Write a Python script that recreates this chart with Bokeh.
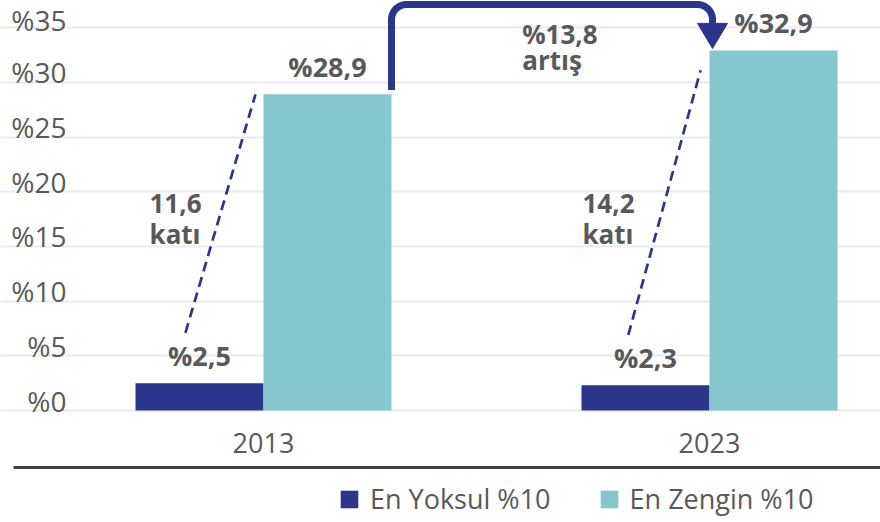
import numpy as np
from bokeh.plotting import figure
from bokeh.models import (ColumnDataSource, FixedTicker, Legend, LegendItem,
                          Range1d)
from bokeh.core.properties import value
from bokeh.embed import file_html
from bokeh.resources import INLINE

# ---------------- data ----------------
categories = ["2013", "2023"]
series_names = ["En Yoksul %10", "En Zengin %10"]
poorest = [2.5, 2.3]
richest = [28.9, 32.9]
ratio_labels = ["11,6\nkatı", "14,2\nkatı"]
increase_label = "%13,8\nartış"
y_ticks = [0, 5, 10, 15, 20, 25, 30, 35]
y_tick_labels = ["%0", "%5", "%10", "%15", "%20", "%25", "%30", "%35"]

# ---------------- style ----------------
NAVY = "#2B3589"
TEAL = "#85C7CC"
GRAY = "#595959"
FONT = "Open Sans"

W, H = 880, 522
PPX = 446.0      # pixels per category step
PPY = 10.94      # pixels per percentage point
X0_PX, Y0_PX = 263, 410   # pixel position of first category / zero line
x_start, x_end = -X0_PX / PPX, (W - X0_PX) / PPX
y_start, y_end = -(H - Y0_PX) / PPY, Y0_PX / PPY
PX_X, PX_Y = 1 / PPX, 1 / PPY
PLOT_LEFT = x_start + 91 * PX_X

BAR_W = 128 * PX_X
TXT_SHIFT = -10          # pixel correction for text baselines
YLBL_LIFT = 10 * PX_Y    # tick labels sit slightly above their gridlines


def pct(v):
    return "%" + f"{v:.1f}".replace(".", ",")


xs = np.arange(len(categories), dtype=float)
src = ColumnDataSource(dict(
    x_poor=xs - BAR_W / 2, x_rich=xs + BAR_W / 2,
    poor=poorest, rich=richest,
    poor_lbl=[pct(v) for v in poorest], rich_lbl=[pct(v) for v in richest],
))

p = figure(width=W, height=H, output_backend="svg", toolbar_location=None,
           x_range=Range1d(x_start, x_end), y_range=Range1d(y_start, y_end),
           min_border_left=0, min_border_right=0, min_border_top=0,
           min_border_bottom=0)
p.outline_line_color = None

r_poor = p.vbar(x="x_poor", top="poor", bottom=0, width=BAR_W, source=src,
                fill_color=NAVY, line_color=None)
r_rich = p.vbar(x="x_rich", top="rich", bottom=0, width=BAR_W, source=src,
                fill_color=TEAL, line_color=None)

# value labels
for xf, yf, tf in (("x_poor", "poor", "poor_lbl"), ("x_rich", "rich", "rich_lbl")):
    p.text(x=xf, y=yf, text=tf, source=src, text_align="center",
           text_baseline="alphabetic", y_offset=-18 + TXT_SHIFT,
           text_font=value(FONT), text_font_style="bold",
           text_font_size="27px", text_color=GRAY)

# dashed ratio lines and ratio labels
dash_x0 = [-0.175, -0.182]
dash_x1 = [-0.018, -0.020]
dash_end_drop = [0.0, 1.8]
ratio_x = [-0.2556, -0.2848]
for i in range(len(categories)):
    p.line([xs[i] + dash_x0[i], xs[i] + dash_x1[i]],
           [poorest[i] + 4.6, richest[i] - dash_end_drop[i]],
           line_color=NAVY, line_width=2.7, line_dash="10 6")
    for k, line in enumerate(ratio_labels[i].split("\n")):
        p.text(x=[xs[i] + ratio_x[i]], y=[18.0], text=[line],
               y_offset=k * 30 + TXT_SHIFT, text_align="left",
               text_baseline="alphabetic",
               text_font=value(FONT), text_font_style="bold",
               text_font_size="26px", text_color=GRAY)

# bent arrow from 2013 richest bar to 2023 richest bar
ax0 = xs[0] + BAR_W
ax1 = xs[1] + 3 * PX_X
ay0 = richest[0] + 0.4
ay_top = y_end - 4 * PX_Y
tip = richest[1] + 0.2
base = tip + 25 * PX_Y
rx, ry = 15 * PX_X, 15 * PX_Y
t1 = np.linspace(np.pi, np.pi / 2, 14)
t2 = np.linspace(np.pi / 2, 0, 14)
path_x = np.concatenate([[ax0], ax0 + rx + rx * np.cos(t1),
                         ax1 - rx + rx * np.cos(t2), [ax1]])
path_y = np.concatenate([[ay0], ay_top - ry + ry * np.sin(t1),
                         ay_top - ry + ry * np.sin(t2), [base]])
p.line(path_x, path_y, line_color=NAVY, line_width=7, line_join="round")
hw = 15 * PX_X
p.patch([ax1 - hw, ax1 + hw, ax1], [base, base, tip],
        fill_color=NAVY, line_color=NAVY, line_width=1)

for k, line in enumerate(increase_label.split("\n")):
    p.text(x=[0.58], y=[33.5], text=[line], y_offset=k * 26 + TXT_SHIFT,
           text_align="left", text_baseline="alphabetic",
           text_font=value(FONT), text_font_style="bold",
           text_font_size="26px", text_color=GRAY)

# axes (placed at fixed locations inside the full-size frame)
label_pos = [t + YLBL_LIFT for t in y_ticks]
p.yaxis.fixed_location = PLOT_LEFT
p.yaxis.ticker = FixedTicker(ticks=label_pos)
p.yaxis.major_label_overrides = {t: l for t, l in zip(label_pos, y_tick_labels)}
p.yaxis.major_label_text_font = FONT
p.yaxis.major_label_text_font_size = "28px"
p.yaxis.major_label_text_color = GRAY
p.yaxis.major_label_standoff = 19
p.yaxis.axis_line_color = None
p.yaxis.major_tick_line_color = None
p.yaxis.minor_tick_line_color = None

p.xaxis.fixed_location = 0
p.xaxis.ticker = FixedTicker(ticks=list(xs))
p.xaxis.major_label_overrides = {float(x): c for x, c in zip(xs, categories)}
p.xaxis.major_label_text_font = FONT
p.xaxis.major_label_text_font_size = "27px"
p.xaxis.major_label_text_color = GRAY
p.xaxis.major_label_standoff = 16
p.xaxis.axis_line_color = None
p.xaxis.major_tick_line_color = None
p.xaxis.minor_tick_line_color = None

p.xgrid.grid_line_color = None
p.ygrid.ticker = FixedTicker(ticks=y_ticks)
p.ygrid.bounds = (PLOT_LEFT, x_end)
p.ygrid.grid_line_color = "#EBEBEF"
p.ygrid.grid_line_width = 2

# separator line below the category labels
sep_y = -(467 - Y0_PX) * PX_Y
p.line([x_start + 13 * PX_X, x_end], [sep_y, sep_y],
       line_color="#404040", line_width=3)

legend = Legend(items=[LegendItem(label=series_names[0], renderers=[r_poor]),
                       LegendItem(label=series_names[1], renderers=[r_rich])],
                location=(338, 5), orientation="horizontal",
                glyph_width=22, glyph_height=22, label_standoff=10, spacing=47,
                padding=0, margin=0, border_line_color=None,
                background_fill_alpha=0,
                label_text_font=FONT, label_text_font_size="27px",
                label_text_color=GRAY)
p.add_layout(legend, "center")

open("out.html", "w").write(file_html(p, INLINE))
